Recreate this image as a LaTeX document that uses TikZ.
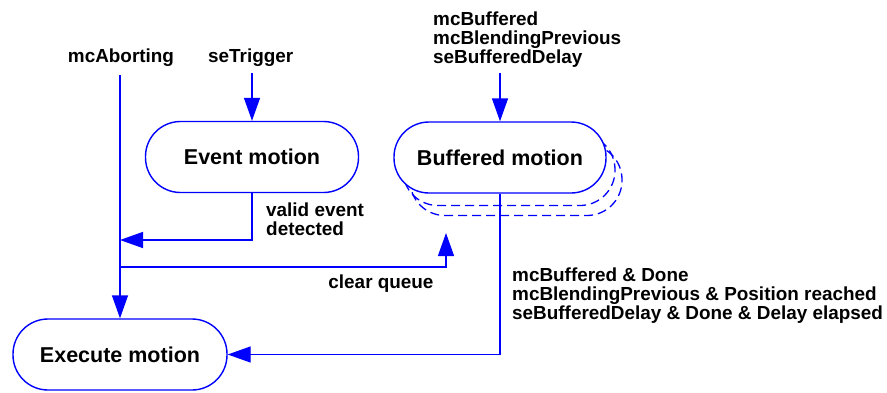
\documentclass[tikz,border=0pt]{standalone}
\usepackage{fontspec}
\setmainfont{Liberation Sans}
\usetikzlibrary{arrows.meta}
\tikzset{
  stadium/.style={draw=blue, line width=1.4pt, fill=white, rectangle, rounded corners=35pt,
    minimum height=71pt, inner sep=0pt, font=\fontsize{21.5}{24}\selectfont\bfseries},
  ghost/.style={draw=blue, line width=1.3pt, dash pattern=on 9pt off 5pt, rectangle,
    rounded corners=35pt, minimum height=71pt, minimum width=212pt, inner sep=0pt},
  lbl/.style={inner sep=0pt, align=left, font=\fontsize{18.9}{19}\selectfont\bfseries},
  arr/.style={draw=blue, line width=1.4pt, -{Triangle[length=23pt,width=16pt]}},
  conn/.style={draw=blue, line width=1.4pt}
}
\begin{document}
\begin{tikzpicture}[x=1pt,y=-1pt]
\useasboundingbox (0,0) rectangle (887,392);
% ghost copies behind buffered motion
\node[ghost] (g2) at (516,180) {};
\node[ghost] (g1) at (509,170) {};
% states
\node[stadium, minimum width=213pt] (event) at (252,157) {Event motion};
\node[stadium, minimum width=212pt] (buf) at (500,157.5) {Buffered motion};
\node[stadium, minimum width=214pt] (exec) at (120,354.5) {Execute motion};
% labels
\node[lbl, anchor=base] (abLbl) at (121,62) {mcAborting};
\node[lbl, anchor=base west] (trLbl) at (208,62) {seTrigger};
\node[lbl, anchor=north west] (bufLbl) at (433,11.5) {mcBuffered\\mcBlendingPrevious\\seBufferedDelay};
\node[lbl, anchor=north west] (veLbl) at (266,202.5) {valid event\\detected};
\node[lbl, anchor=base] (cqLbl) at (381,288) {clear queue};
\node[lbl, anchor=north west] (doneLbl) at (512,267.5) {mcBuffered \& Done\\mcBlendingPrevious \& Position reached\\seBufferedDelay \& Done \& Delay elapsed};
% coordinates
\coordinate (abTop) at (120,75);
\coordinate (trTop) at (252,73);
\coordinate (bufTop) at (500,73);
\coordinate (j1) at (120,240);
\coordinate (j2) at (120,267);
\coordinate (cqTip) at (446,233);
% connectors
\draw[arr] (abTop) -- (exec.north);
\draw[arr] (trTop) -- (event.north);
\draw[arr] (bufTop) -- (buf.north);
\draw[arr] (event.south) |- (j1);
\draw[arr] (j2) -| (cqTip);
\draw[arr] (buf.south) |- (exec.east);
\end{tikzpicture}
\end{document}
